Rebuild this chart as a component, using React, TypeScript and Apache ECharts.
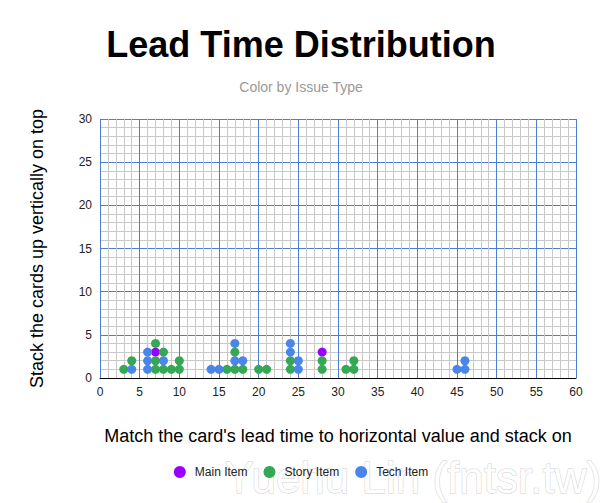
import React, { useEffect, useRef } from "react";
import * as echarts from "echarts";

const titleText = "Lead Time Distribution";
const subtitleText = "Color by Issue Type";
const xAxisTitle = "Match the card's lead time to horizontal value and stack on";
const yAxisTitle = "Stack the cards up vertically on top";
const watermarkText = "Yuehu Lin (fntsr.tw)";

const seriesNames = ["Main Item", "Story Item", "Tech Item"];
const seriesColors = ["#9900ff", "#34a853", "#4a86e8"];

// [lead time (days), stack position]
const mainItems: number[][] = [
  [7, 3], [28, 3],
];
const storyItems: number[][] = [
  [3, 1], [4, 2], [7, 1], [7, 2], [7, 4], [8, 1], [8, 3], [9, 1], [10, 1], [10, 2],
  [16, 1], [17, 1], [17, 3], [18, 1], [20, 1], [21, 1], [24, 1], [24, 2],
  [28, 1], [28, 2], [31, 1], [32, 1], [32, 2],
];
const techItems: number[][] = [
  [4, 1], [6, 1], [6, 2], [6, 3], [8, 2], [14, 1], [15, 1], [17, 2], [17, 4], [18, 2],
  [24, 3], [24, 4], [25, 1], [25, 2], [45, 1], [46, 1], [46, 2],
];

const xMin = 0, xMax = 60, xStep = 5;
const yMin = 0, yMax = 30, yStep = 5;

const FONT = "'Liberation Sans', Arial, sans-serif";

export default function App() {
  const ref = useRef<HTMLDivElement>(null);
  useEffect(() => {
    if (!ref.current) return;
    const chart = echarts.init(ref.current, undefined, { renderer: "svg" });
    const allData = [mainItems, storyItems, techItems];
    chart.setOption({
      animation: false,
      backgroundColor: "#ffffff",
      textStyle: { fontFamily: FONT },
      title: [
        {
          text: titleText,
          left: "center",
          top: 26,
          padding: 0,
          textStyle: { fontSize: 36, fontWeight: "bold", color: "#000", fontFamily: FONT },
        },
        {
          text: subtitleText,
          left: "center",
          top: 80,
          padding: 0,
          textStyle: { fontSize: 14, fontWeight: "normal", color: "#999", fontFamily: FONT },
        },
      ],
      graphic: [
        {
          type: "text",
          left: 224,
          top: 455,
          z: -10,
          silent: true,
          style: {
            text: watermarkText,
            font: `44px ${FONT}`,
            fill: "#ffffff",
            stroke: "#d0d0d0",
            lineWidth: 1,
          },
        },
      ],
      legend: {
        top: 461,
        left: "center",
        itemWidth: 12,
        itemHeight: 12,
        itemGap: 16,
        icon: "circle",
        textStyle: { fontSize: 12, color: "#222", fontFamily: FONT, padding: [0, 0, 0, 4] },
        data: seriesNames,
      },
      grid: { left: 100, right: 26, top: 119, bottom: 125, containLabel: false },
      xAxis: {
        type: "value",
        min: xMin,
        max: xMax,
        interval: xStep,
        name: xAxisTitle,
        nameLocation: "middle",
        nameGap: 49,
        nameTextStyle: { fontSize: 18, color: "#000", fontFamily: FONT },
        axisLine: { show: true, onZero: false, lineStyle: { color: "#000", width: 1 } },
        axisTick: { show: false },
        axisLabel: { fontSize: 12, color: "#222", margin: 8, fontFamily: FONT },
        splitLine: { show: true, lineStyle: { color: "#4a7fd6", width: 1 } },
        minorTick: { show: false, splitNumber: 5 },
        minorSplitLine: { show: true, lineStyle: { color: "#c8c8c8", width: 1 } },
      },
      yAxis: {
        type: "value",
        min: yMin,
        max: yMax,
        interval: yStep,
        name: yAxisTitle,
        nameLocation: "middle",
        nameGap: 54,
        nameTextStyle: { fontSize: 18, color: "#000", fontFamily: FONT },
        axisLine: { show: false },
        axisTick: { show: false },
        axisLabel: { fontSize: 12, color: "#222", margin: 8, fontFamily: FONT },
        splitLine: { show: true, lineStyle: { color: "#4a7fd6", width: 1 } },
        minorTick: { show: false, splitNumber: 5 },
        minorSplitLine: { show: true, lineStyle: { color: "#c8c8c8", width: 1 } },
      },
      series: seriesNames.map((name, i) => ({
        name,
        type: "scatter",
        symbol: "circle",
        symbolSize: 9,
        itemStyle: { color: seriesColors[i], opacity: 1 },
        data: allData[i],
      })),
    });
    return () => chart.dispose();
  }, []);
  return (
    <div
      ref={ref}
      style={{ position: "fixed", left: 0, top: 0, width: 602, height: 503 }}
    />
  );
}
